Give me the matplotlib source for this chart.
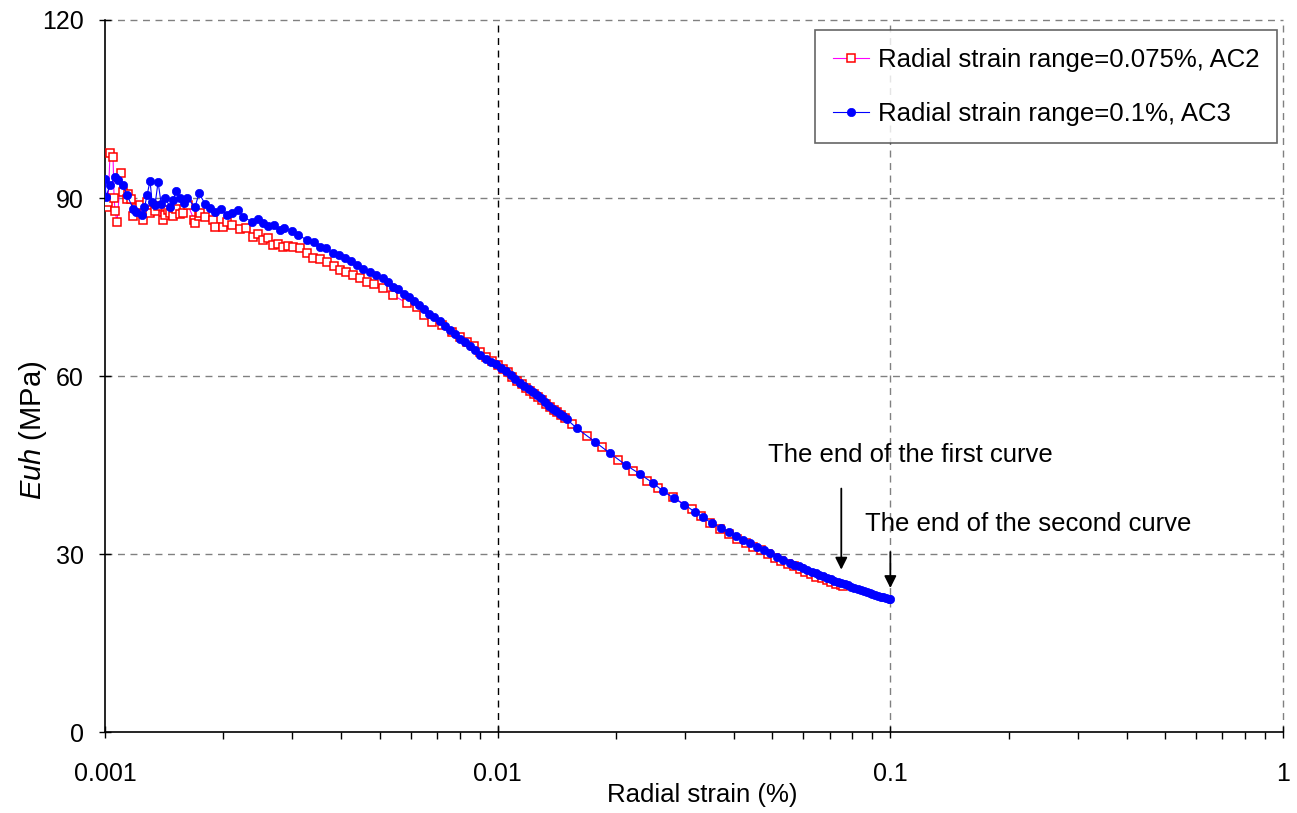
import matplotlib
matplotlib.use('Agg')
import matplotlib.pyplot as plt
from matplotlib.ticker import LogLocator, FixedLocator, NullFormatter

plt.rcParams['font.family'] = ['Liberation Sans', 'DejaVu Sans']
plt.rcParams['mathtext.fontset'] = 'custom'
plt.rcParams['mathtext.it'] = 'Liberation Sans:italic'
plt.rcParams['mathtext.rm'] = 'Liberation Sans'

# Radial strain range = 0.075%, AC2 (strain in units of 1e-3 %)
ac2_strain_e3 = [
    1.0000, 1.0118, 1.0178, 1.0298, 1.0480, 1.0542, 1.0604, 1.0728, 1.0984, 1.1113,
    1.1378, 1.1445, 1.1648, 1.1785, 1.1994, 1.2278, 1.2496, 1.2793, 1.3020, 1.3408,
    1.3646, 1.4052, 1.4218, 1.4470, 1.4641, 1.4900, 1.5165, 1.5525, 1.5800, 1.6270,
    1.6853, 1.6952, 1.7354, 1.7456, 1.7975, 1.8837, 1.9059, 1.9975, 2.0449, 2.1000,
    2.2075, 2.2800, 2.3813, 2.4500, 2.5253, 2.6000, 2.6777, 2.7500, 2.8393, 2.9200,
    3.0100, 3.1372, 3.2600, 3.3860, 3.5300, 3.6755, 3.8200, 3.9672, 4.1200, 4.2813,
    4.4500, 4.6474, 4.8500, 5.1059, 5.4140, 5.8700, 6.2200, 6.5000, 6.8000, 7.2100,
    7.6500, 8.0000, 8.3600, 8.6800, 9.0000, 9.3500, 9.6800, 10.000, 10.300, 10.600,
    10.900, 11.200, 11.500, 11.800, 12.100, 12.400, 12.700, 13.000, 13.300, 13.600,
    13.900, 14.200, 14.500, 14.800, 15.450, 16.880, 18.430, 20.240, 22.110, 24.000,
    25.590, 27.950, 31.240, 33.000, 34.800, 36.800, 38.800, 40.800, 42.800, 44.800,
    46.800, 48.800, 50.800, 52.800, 54.800, 56.800, 58.800, 60.800, 62.800, 64.800,
    66.800, 68.800, 70.800, 72.800, 74.800, 75.600,
]
ac2_euh = [
    90.0, 88.5, 89.3, 97.6, 96.9, 90.0, 87.8, 86.0, 94.2, 91.0,
    89.9, 90.7, 89.8, 87.0, 88.3, 88.8, 86.3, 89.3, 87.4, 87.8,
    88.6, 86.3, 87.2, 88.0, 87.4, 87.0, 88.2, 87.3, 87.5, 88.8,
    86.3, 85.8, 87.0, 87.5, 86.8, 86.3, 85.1, 85.1, 86.0, 85.4,
    84.8, 85.0, 83.4, 83.9, 82.9, 83.2, 82.1, 82.3, 81.7, 81.9,
    81.7, 81.6, 80.7, 79.9, 79.7, 79.2, 78.6, 77.9, 77.6, 77.0,
    76.5, 75.8, 75.5, 74.8, 73.6, 72.3, 71.6, 70.3, 69.1, 68.6,
    67.4, 66.5, 65.7, 65.0, 64.1, 63.2, 62.5, 61.9, 61.2, 60.6,
    59.9, 59.2, 58.6, 58.0, 57.5, 57.0, 56.5, 55.9, 55.3, 54.8,
    54.3, 53.9, 53.4, 52.9, 51.9, 49.9, 48.0, 45.8, 44.0, 42.3,
    41.1, 39.6, 37.6, 36.4, 35.3, 34.3, 33.4, 32.6, 31.9, 31.2,
    30.6, 30.0, 29.4, 28.9, 28.4, 27.9, 27.4, 27.0, 26.6, 26.2,
    25.9, 25.6, 25.3, 25.0, 24.7, 24.6,
]

# Radial strain range = 0.1%, AC3 (strain in units of 1e-3 %)
ac3_strain_e3 = [
    1.0000, 1.0050, 1.0298, 1.0604, 1.0800, 1.1113, 1.1378, 1.1785, 1.2000, 1.2423,
    1.2600, 1.2793, 1.3020, 1.3174, 1.3408, 1.3646, 1.3900, 1.4218, 1.4641, 1.4900,
    1.5165, 1.5525, 1.5900, 1.6175, 1.6952, 1.7354, 1.7975, 1.8500, 1.9059, 1.9700,
    2.0449, 2.1000, 2.1818, 2.2500, 2.3673, 2.4500, 2.5253, 2.6000, 2.7000, 2.7898,
    2.8600, 2.9935, 3.1000, 3.2690, 3.4000, 3.5277, 3.6500, 3.8077, 3.9400, 4.0852,
    4.2300, 4.3828, 4.5500, 4.7299, 4.9000, 5.1059, 5.2500, 5.4140, 5.5700, 5.7700,
    5.9400, 6.1200, 6.3000, 6.5000, 6.7000, 6.9000, 7.1100, 7.3300, 7.5500, 7.7800,
    8.0200, 8.2600, 8.5100, 8.7700, 9.0400, 9.3200, 9.6000, 9.9000, 10.200, 10.500,
    10.800, 11.100, 11.400, 11.700, 12.000, 12.300, 12.600, 12.900, 13.200, 13.500,
    13.800, 14.100, 14.400, 14.700, 15.000, 15.900, 17.700, 19.300, 21.200, 23.000,
    24.800, 26.400, 28.100, 29.900, 31.800, 33.300, 35.100, 37.000, 38.800, 40.400,
    42.100, 43.900, 45.700, 47.600, 49.500, 51.400, 53.200, 55.500, 57.000, 58.500,
    60.000, 61.500, 63.000, 64.500, 66.000, 67.500, 69.000, 70.500, 72.000, 73.500,
    75.000, 76.500, 78.000, 79.500, 81.000, 82.500, 84.000, 85.500, 87.000, 88.500,
    90.000, 91.500, 93.000, 94.500, 96.000, 97.500, 99.000, 100.00,
]
ac3_euh = [
    93.2, 90.2, 92.2, 93.5, 93.0, 92.2, 90.5, 88.2, 87.6, 87.1,
    88.4, 90.5, 92.9, 89.3, 88.9, 92.7, 89.0, 90.0, 88.5, 89.6,
    91.2, 90.0, 89.2, 90.0, 88.5, 90.8, 89.0, 88.3, 87.6, 88.1,
    87.1, 87.5, 88.0, 86.8, 86.0, 86.4, 85.8, 85.2, 85.5, 84.6,
    84.9, 84.5, 83.8, 82.9, 82.6, 81.7, 81.5, 80.7, 80.4, 79.9,
    79.4, 78.7, 78.1, 77.5, 77.0, 76.5, 75.9, 75.0, 74.7, 73.9,
    73.3, 72.7, 72.0, 71.3, 70.5, 69.9, 69.2, 68.5, 67.8, 67.1,
    66.3, 65.7, 65.0, 64.3, 63.6, 62.9, 62.4, 62.0, 61.4, 60.8,
    60.2, 59.5, 58.9, 58.3, 57.8, 57.3, 56.8, 56.3, 55.6, 55.0,
    54.5, 54.1, 53.6, 53.2, 52.7, 51.2, 48.9, 47.0, 45.0, 43.5,
    42.0, 40.6, 39.4, 38.3, 37.1, 36.2, 35.2, 34.4, 33.7, 33.0,
    32.4, 31.9, 31.2, 30.6, 30.1, 29.5, 29.0, 28.5, 28.2, 27.9,
    27.6, 27.3, 27.0, 26.8, 26.5, 26.3, 26.0, 25.8, 25.5, 25.3,
    25.1, 24.9, 24.7, 24.5, 24.3, 24.1, 23.9, 23.8, 23.6, 23.4,
    23.3, 23.1, 23.0, 22.8, 22.7, 22.6, 22.5, 22.4,
]

ac2_strain = [s / 1000 for s in ac2_strain_e3]
ac3_strain = [s / 1000 for s in ac3_strain_e3]

y_ticks = [0, 30, 60, 90, 120]
x_ticks = [0.001, 0.01, 0.1, 1]
x_tick_labels = ['0.001', '0.01', '0.1', '1']

fig = plt.figure(figsize=(12.97, 8.13), dpi=100)
ax = fig.add_axes([0.081, 0.0996, 0.9082, 0.8758])

# grid lines (the top / right edges are grid lines too)
dash = (0, (5, 4))
for yv in y_ticks[1:]:
    ax.axhline(yv, color='#808080', ls=dash, lw=1.0, zorder=1, clip_on=False)
ax.axvline(0.01, color='black', ls=dash, lw=1.0, zorder=1)
for xv in x_ticks[2:]:
    ax.axvline(xv, color='#808080', ls=dash, lw=1.0, zorder=1, clip_on=False)

ax.plot(ac2_strain, ac2_euh, color='#ff00ff', lw=0.8, marker='s', ms=5.5,
        mec='red', mfc='white', mew=1.1, zorder=3,
        label='Radial strain range=0.075%, AC2')
ax.plot(ac3_strain, ac3_euh, color='blue', lw=0.8, marker='o', ms=6,
        mec='blue', mfc='blue', mew=0.5, zorder=4,
        label='Radial strain range=0.1%, AC3')

ax.set_xscale('log')
ax.set_xlim(0.001, 1)
ax.set_ylim(0, 120)
ax.xaxis.set_major_locator(FixedLocator(x_ticks))
ax.set_xticklabels(x_tick_labels)
ax.xaxis.set_minor_locator(LogLocator(base=10, subs=range(2, 10)))
ax.xaxis.set_minor_formatter(NullFormatter())
ax.set_yticks(y_ticks)

for side in ['top', 'right']:
    ax.spines[side].set_visible(False)
for side in ['left', 'bottom']:
    ax.spines[side].set_linewidth(1.2)

ax.tick_params(axis='both', which='major', direction='inout', length=9,
               width=1, labelsize=18)
ax.tick_params(axis='x', which='major', pad=17)
ax.tick_params(axis='y', which='major', pad=11)
ax.tick_params(axis='x', which='minor', direction='out', length=5, width=1)

ax.set_xlabel('Radial strain (%)', fontsize=18.5, va='center')
ax.xaxis.set_label_coords(0.507, -0.0885)
ax.set_ylabel(r'$\it{Euh}$ (MPa)', fontsize=21, va='center')
ax.yaxis.set_label_coords(-0.061, 0.424)

ax.annotate('', xy=(0.075, 26.9), xytext=(0.075, 41.5),
            arrowprops=dict(arrowstyle='-|>', color='black', lw=1.3,
                            mutation_scale=18))
ax.text(0.0488, 46.7, 'The end of the first curve', fontsize=18.5,
        ha='left', va='center')
ax.annotate('', xy=(0.1, 23.8), xytext=(0.1, 30.8),
            arrowprops=dict(arrowstyle='-|>', color='black', lw=1.3,
                            mutation_scale=18))
ax.text(0.0862, 35.0, 'The end of the second curve', fontsize=18.5,
        ha='left', va='center')

leg = ax.legend(loc='upper right', bbox_to_anchor=(0.995, 0.986), fontsize=18.5,
                frameon=True, fancybox=False, borderpad=0.7, labelspacing=1.15,
                handlelength=1.4, handletextpad=0.35, borderaxespad=0)
leg.get_frame().set_edgecolor('#404040')
leg.get_frame().set_linewidth(1.2)

fig.savefig('out.png', dpi=100)
